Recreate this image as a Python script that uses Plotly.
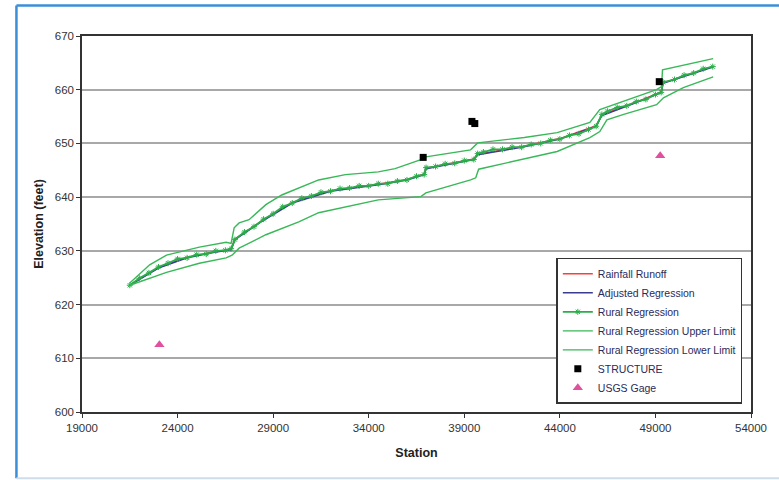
import plotly.graph_objects as go

# ---------------- data ----------------
rural_station = [21500, 22000, 22500, 23000, 23500, 24000, 24500, 25000, 25500, 26000,
                 26500, 26800, 27000, 27500, 28000, 28500, 29000, 29500, 30000, 30500,
                 31000, 31500, 32000, 32500, 33000, 33500, 34000, 34500, 35000, 35500,
                 36000, 36500, 36900, 37000, 37500, 38000, 38500, 39000, 39500, 39700,
                 40000, 40500, 41000, 41500, 42000, 42500, 43000, 43500, 44000, 44500,
                 45000, 45500, 45900, 46200, 46500, 47000, 47500, 48000, 48500, 49000,
                 49300, 49400, 50000, 50500, 51000, 51500, 52000]
rural_elev = [623.6, 624.9, 625.9, 627.0, 627.7, 628.5, 628.7, 629.3, 629.4, 630.0,
              630.1, 630.4, 632.1, 633.5, 634.5, 635.9, 636.9, 638.2, 638.9, 639.8,
              640.2, 640.9, 641.1, 641.6, 641.7, 642.1, 642.1, 642.5, 642.5, 643.0,
              643.2, 643.9, 644.2, 645.5, 645.7, 646.2, 646.3, 646.8, 647.0, 648.1,
              648.4, 648.9, 648.9, 649.3, 649.3, 649.8, 650.0, 650.6, 650.8, 651.5,
              651.8, 652.6, 653.2, 655.4, 656.0, 656.7, 657.0, 657.8, 658.2, 659.1,
              659.5, 661.4, 661.9, 662.7, 663.1, 663.9, 664.3]

runoff_station = [21500, 23000, 24500, 26000, 26800, 27000, 28500, 30000, 32000, 34500,
                  36000, 36900, 37000, 39500, 39700, 42000, 44000, 45900, 46200, 48000,
                  49300, 49400, 52000]
runoff_elev = [623.6, 626.9, 628.8, 629.9, 630.3, 632.2, 635.8, 639.0, 641.2, 642.4,
               643.3, 644.3, 645.4, 647.1, 648.0, 649.4, 650.9, 653.3, 655.3, 657.7,
               659.6, 661.3, 664.3]
adjusted_elev = [623.6, 626.8, 628.7, 629.8, 630.2, 632.1, 635.7, 638.9, 641.1, 642.3,
                 643.2, 644.2, 645.3, 647.0, 647.9, 649.3, 650.8, 653.2, 655.2, 657.6,
                 659.5, 661.2, 664.2]

upper_station = [21500, 22540, 23420, 25140, 26540, 26800, 26960, 27220, 27740, 28620,
                 29450, 30340, 31380, 32780, 34500, 35380, 36730, 36990, 39330, 39700,
                 42140, 43860, 45570, 46090, 47340, 49060, 49320, 49370, 52020]
upper_elev = [624.0, 627.4, 629.2, 630.7, 631.6, 631.4, 634.3, 635.2, 635.8, 638.6,
              640.4, 641.7, 643.2, 644.2, 644.7, 645.3, 647.0, 647.5, 648.8, 650.1,
              651.1, 652.0, 653.9, 656.3, 657.8, 660.0, 660.6, 663.7, 665.8]

lower_station = [21500, 22540, 23420, 25140, 26540, 26850, 27220, 28620, 30340, 31380,
                 32780, 34500, 36730, 36990, 39330, 39600, 39750, 40370, 42140, 43860,
                 45570, 46090, 46460, 47340, 49060, 49420, 50460, 52020]
lower_elev = [623.6, 624.9, 626.0, 627.7, 628.7, 629.2, 630.5, 633.0, 635.4, 637.1,
              638.2, 639.5, 640.1, 640.8, 643.2, 643.6, 645.2, 645.7, 647.0, 648.5,
              651.1, 652.2, 654.4, 655.4, 657.2, 658.5, 660.4, 662.4]

structure_station = [36850, 39400, 39550, 49200]
structure_elev = [647.4, 654.1, 653.7, 661.5]

gage_station = [23050, 49250]
gage_elev = [612.5, 647.7]

x_ticks = [19000, 24000, 29000, 34000, 39000, 44000, 49000, 54000]
y_ticks = [600, 610, 620, 630, 640, 650, 660, 670]

# ---------------- figure ----------------
GREEN = "#2aae4a"
LIMIT_GREEN = "#38b858"
FONT = "Liberation Sans, Arial, sans-serif"

fig = go.Figure()
fig.add_trace(go.Scatter(x=runoff_station, y=runoff_elev, mode="lines",
                         name="Rainfall Runoff", line=dict(color="#ff3b3b", width=1.5)))
fig.add_trace(go.Scatter(x=runoff_station, y=adjusted_elev, mode="lines",
                         name="Adjusted Regression", line=dict(color="#3b3b94", width=1.5)))
fig.add_trace(go.Scatter(x=rural_station, y=rural_elev, mode="lines+markers",
                         name="Rural Regression", line=dict(color=GREEN, width=1.8),
                         marker=dict(symbol="asterisk-open", size=5,
                                     line=dict(color=GREEN, width=1))))
fig.add_trace(go.Scatter(x=upper_station, y=upper_elev, mode="lines",
                         name="Rural Regression Upper Limit",
                         line=dict(color=LIMIT_GREEN, width=1.4)))
fig.add_trace(go.Scatter(x=lower_station, y=lower_elev, mode="lines",
                         name="Rural Regression Lower Limit",
                         line=dict(color=LIMIT_GREEN, width=1.4)))
fig.add_trace(go.Scatter(x=structure_station, y=structure_elev, mode="markers",
                         name="STRUCTURE",
                         marker=dict(symbol="square", size=7, color="black")))
fig.add_trace(go.Scatter(x=gage_station, y=gage_elev, mode="markers",
                         name="USGS Gage",
                         marker=dict(symbol="triangle-up", size=9, color="#e0509f")))

fig.update_layout(
    width=779, height=480,
    margin=dict(l=82, r=24, t=36, b=68),
    paper_bgcolor="white", plot_bgcolor="white",
    font=dict(family=FONT, size=11.5, color="#333"),
    showlegend=True,
    legend=dict(x=0.709, y=0.41, xanchor="left", yanchor="top",
                bordercolor="#333", borderwidth=1.5, bgcolor="white",
                font=dict(family=FONT, size=10.5, color="#2a2a5a"),
                tracegroupgap=0, itemwidth=30),
    xaxis=dict(range=[19000, 54000], tickvals=x_ticks, tickformat="d",
               showgrid=False, zeroline=False, showline=True, linecolor="#333",
               linewidth=1.5, mirror=True, ticks="outside", ticklen=4,
               tickcolor="#333",
               title=dict(text="<b>Station</b>", font=dict(family=FONT, size=12.5, color="#222"),
                          standoff=16)),
    yaxis=dict(range=[600, 670], tickvals=y_ticks, showgrid=True,
               gridcolor="#a8a8a8", gridwidth=1.5, zeroline=False, showline=True,
               linecolor="#333", linewidth=1.5, mirror=True, ticks="outside",
               ticklen=4, tickcolor="#333",
               title=dict(text="<b>Elevation (feet)</b>", font=dict(family=FONT, size=12.5, color="#222"),
                          standoff=8)),
    shapes=[
        dict(type="line", xref="paper", yref="paper", x0=-0.098, x1=1.05,
             y0=1.081, y1=1.081, line=dict(color="#3a8fd8", width=2.5)),
        dict(type="line", xref="paper", yref="paper", x0=-0.098, x1=-0.098,
             y0=-0.176, y1=1.081, line=dict(color="#3a8fd8", width=2.5)),
        dict(type="line", xref="paper", yref="paper", x0=-0.098, x1=1.05,
             y0=-0.176, y1=-0.176, line=dict(color="#d0dcea", width=2)),
    ],
)

fig.write_html("out.html", config={"displayModeBar": False},
               post_script="document.body.style.margin='0';")
